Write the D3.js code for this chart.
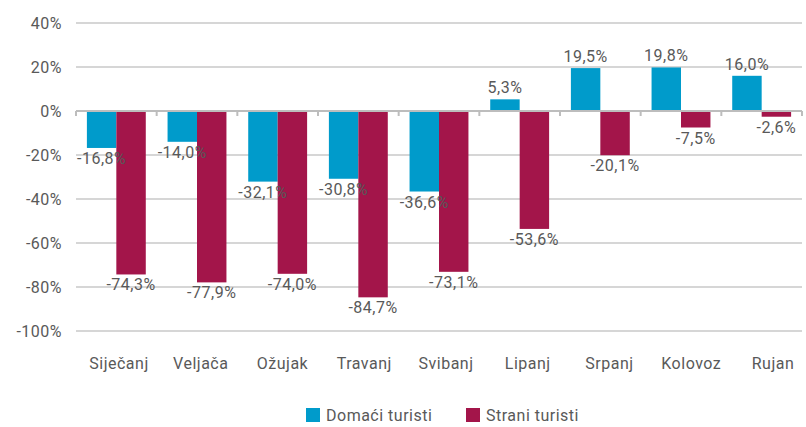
<!DOCTYPE html>
<html>
<head>
<meta charset="utf-8">
<script src="https://cdn.jsdelivr.net/npm/d3@7"></script>
<style>
  body { margin: 0; background: #fff; }
  text { font-family: Roboto, "DejaVu Sans", sans-serif; fill: #595959; letter-spacing: 0.5px; }
</style>
</head>
<body>
<svg width="806" height="427"></svg>
<script>
var months = ["Siječanj", "Veljača", "Ožujak", "Travanj", "Svibanj", "Lipanj", "Srpanj", "Kolovoz", "Rujan"];
var domaci = [-16.8, -14.0, -32.1, -30.8, -36.6, 5.3, 19.5, 19.8, 16.0];
var strani = [-74.3, -77.9, -74.0, -84.7, -73.1, -53.6, -20.1, -7.5, -2.6];
var yTicks = [40, 20, 0, -20, -40, -60, -80, -100];
var seriesNames = ["Domaći turisti", "Strani turisti"];
var colors = ["#009bcb", "#a3154a"];

var svg = d3.select("svg");
var plotL = 76, plotR = 802, plotT = 23, plotB = 331;

var x = d3.scaleBand().domain(months).range([plotL, plotR]).paddingInner(0.27).paddingOuter(0.135);
var x1 = d3.scaleBand().domain([0, 1]).range([0, x.bandwidth()]);
var y = d3.scaleLinear().domain([-100, 40]).range([plotB, plotT]);
// category labels sit a little wider apart than the bars
var xLab = d3.scalePoint().domain(months).range([119, 773]);

var fmt = function(v) { return v.toFixed(1).replace(".", ",") + "%"; };

// grid
svg.append("g").selectAll("line")
  .data(yTicks.filter(function(d) { return d !== 0; }))
  .enter().append("line")
  .attr("x1", plotL).attr("x2", plotR)
  .attr("y1", function(d) { return y(d); }).attr("y2", function(d) { return y(d); })
  .attr("stroke", "#c9c9c9").attr("stroke-width", 1.5);

svg.append("g").selectAll("text")
  .data(yTicks)
  .enter().append("text")
  .attr("x", 62).attr("y", function(d) { return y(d) + 6; })
  .attr("text-anchor", "end")
  .attr("font-size", 16)
  .text(function(d) { return d + "%"; });

// bars
var data = months.map(function(m, i) { return { month: m, vals: [domaci[i], strani[i]] }; });

var groups = svg.append("g").selectAll("g")
  .data(data)
  .enter().append("g")
  .attr("transform", function(d) { return "translate(" + x(d.month) + ",0)"; });

groups.selectAll("rect")
  .data(function(d) { return d.vals.map(function(v, k) { return { v: v, k: k }; }); })
  .enter().append("rect")
  .attr("x", function(d) { return x1(d.k); })
  .attr("width", x1.bandwidth())
  .attr("y", function(d) { return Math.min(y(d.v), y(0)); })
  .attr("height", function(d) { return Math.abs(y(d.v) - y(0)); })
  .attr("fill", function(d) { return colors[d.k]; });

// zero line with tick marks
var zero = svg.append("g");
zero.append("line")
  .attr("x1", plotL).attr("x2", plotR)
  .attr("y1", y(0)).attr("y2", y(0))
  .attr("stroke", "#bdbdbd").attr("stroke-width", 2);
var bounds = months.map(function(m) { return x(m) - x.step() * x.paddingInner() / 2; }).concat([plotR]);
bounds[0] = plotL;
zero.selectAll("line.tick")
  .data(bounds)
  .enter().append("line")
  .attr("class", "tick")
  .attr("x1", function(d) { return d; }).attr("x2", function(d) { return d; })
  .attr("y1", y(0)).attr("y2", y(0) + 5)
  .attr("stroke", "#bdbdbd").attr("stroke-width", 2);

// value labels
groups.selectAll("text.val")
  .data(function(d) { return d.vals.map(function(v, k) { return { v: v, k: k }; }); })
  .enter().append("text")
  .attr("class", "val")
  .attr("x", function(d) { return x1(d.k) + x1.bandwidth() / 2; })
  .attr("y", function(d) { return d.v < 0 ? y(d.v) + 16 : y(d.v) - 6; })
  .attr("text-anchor", "middle")
  .attr("font-size", 16)
  .text(function(d) { return fmt(d.v); });

// category labels
svg.append("g").selectAll("text")
  .data(months)
  .enter().append("text")
  .attr("x", function(d) { return xLab(d); })
  .attr("y", 369)
  .attr("text-anchor", "middle")
  .attr("font-size", 16)
  .text(function(d) { return d; });

// legend
var legend = svg.append("g");
var legX = [306, 466];
seriesNames.forEach(function(name, i) {
  legend.append("rect")
    .attr("x", legX[i]).attr("y", 408)
    .attr("width", 14).attr("height", 14)
    .attr("fill", colors[i]);
  legend.append("text")
    .attr("x", legX[i] + 20).attr("y", 421)
    .attr("font-size", 16)
    .text(name);
});
</script>
</body>
</html>
